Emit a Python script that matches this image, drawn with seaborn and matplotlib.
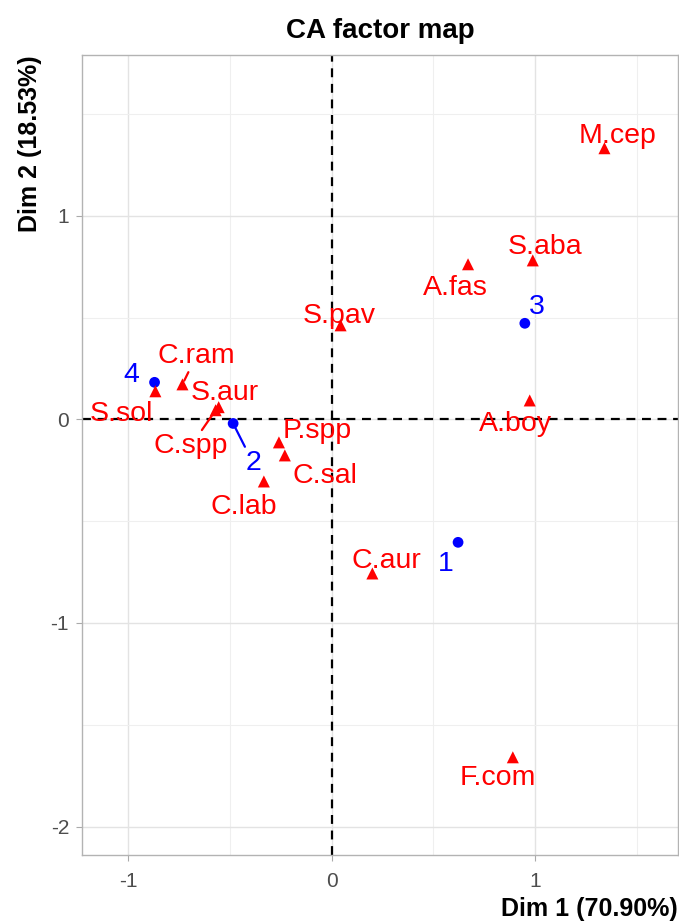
import matplotlib
matplotlib.use("Agg")
import matplotlib.pyplot as plt
import seaborn as sns
import pandas as pd

# Data
row_names = ["1", "2", "3", "4"]
row_x = [0.621, -0.484, 0.949, -0.870]
row_y = [-0.604, -0.020, 0.472, 0.182]

col_names = ["M.cep", "S.aba", "A.fas", "S.pav", "A.boy", "S.sol", "C.ram",
             "S.aur", "C.spp", "P.spp", "C.sal", "C.lab", "C.aur", "F.com"]
col_x = [1.340, 0.988, 0.670, 0.044, 0.973, -0.866, -0.733,
         -0.555, -0.570, -0.259, -0.230, -0.333, 0.200, 0.890]
col_y = [1.332, 0.781, 0.762, 0.462, 0.093, 0.138, 0.172,
         0.060, 0.045, -0.113, -0.177, -0.305, -0.757, -1.660]

x_ticks = [-1, 0, 1]
y_ticks = [-2, -1, 0, 1]

sns.set_theme(style="whitegrid")
plt.rcParams['font.family'] = ['Liberation Sans', 'DejaVu Sans']
plt.rcParams['axes.unicode_minus'] = False

rows = pd.DataFrame({"x": row_x, "y": row_y, "name": row_names})
cols = pd.DataFrame({"x": col_x, "y": col_y, "name": col_names})

fig = plt.figure(figsize=(6.79, 9.23), dpi=100)
ax = fig.add_axes([81/679, 68/923, 598/679, 800/923])

ax.axhline(0, color="black", ls=(0, (4, 3)), lw=1.6, zorder=1)
ax.axvline(0, color="black", ls=(0, (4, 3)), lw=1.6, zorder=1)

sns.scatterplot(data=rows, x="x", y="y", ax=ax, color="#0000FF", marker="o",
                s=60, edgecolor="none", zorder=3, legend=False)
sns.scatterplot(data=cols, x="x", y="y", ax=ax, color="#FF0000", marker="^",
                s=75, edgecolor="none", zorder=3, legend=False)

# label offsets in points (dx, dy)
row_off = {"1": (-8.6, -15.5), "2": (14.4, -28.5), "3": (8.6, 12), "4": (-16.6, 5.5)}
col_off = {"M.cep": (9.4, 9), "S.aba": (8.6, 9.8), "A.fas": (-9.4, -16.8),
           "S.pav": (-0.7, 6.9), "A.boy": (-10, -16.8), "S.sol": (-24.5, -16),
           "C.ram": (10, 20.5), "S.aur": (4.3, 10.5), "C.spp": (-18, -26),
           "P.spp": (27.4, 8.4), "C.sal": (28.8, -14.7), "C.lab": (-14.4, -18.3),
           "C.aur": (10, 9), "F.com": (-10.8, -14.7)}
segments = {"2": True, "C.ram": True, "C.spp": True}

def place(df, offs, color):
    for _, r in df.iterrows():
        dx, dy = offs[r["name"]]
        arrow = None
        if r["name"] in segments:
            arrow = dict(arrowstyle="-", color=color, lw=1.6, shrinkA=0, shrinkB=3)
        ax.annotate(r["name"], (r["x"], r["y"]), xytext=(dx, dy),
                    textcoords="offset points", ha="center", va="center",
                    color=color, fontsize=20.5, arrowprops=arrow, zorder=4)

place(rows, row_off, "#0000FF")
place(cols, col_off, "#FF0000")

ax.set_xlim(-1.225, 1.70)
ax.set_ylim(-2.14, 1.79)
ax.set_aspect("equal")
ax.set_xticks(x_ticks)
ax.set_yticks(y_ticks)
ax.set_xticks([-0.5, 0.5, 1.5], minor=True)
ax.set_yticks([-1.5, -0.5, 0.5, 1.5], minor=True)
ax.grid(which="major", color="#E3E3E3", lw=1.0)
ax.grid(which="minor", color="#EFEFEF", lw=0.8)
ax.tick_params(axis="both", which="major", length=4.5, color="#AAAAAA",
               labelsize=15, labelcolor="#4D4D4D", width=0.8, bottom=True, left=True)
ax.tick_params(axis="x", which="major", pad=8)
ax.tick_params(axis="y", which="major", pad=5)
ax.tick_params(which="minor", length=0)
for s in ax.spines.values():
    s.set_color("#B3B3B3")
    s.set_linewidth(1.0)

ax.set_xlabel("Dim 1 (70.90%)", fontsize=18, fontweight="bold", loc="right",
              labelpad=4, color="black")
ax.set_ylabel("Dim 2 (18.53%)", fontsize=18, fontweight="bold", loc="top",
              labelpad=6, color="black")
ax.set_title("CA factor map", fontsize=20, fontweight="bold", pad=12, color="black")

fig.savefig("out.png", dpi=100)
